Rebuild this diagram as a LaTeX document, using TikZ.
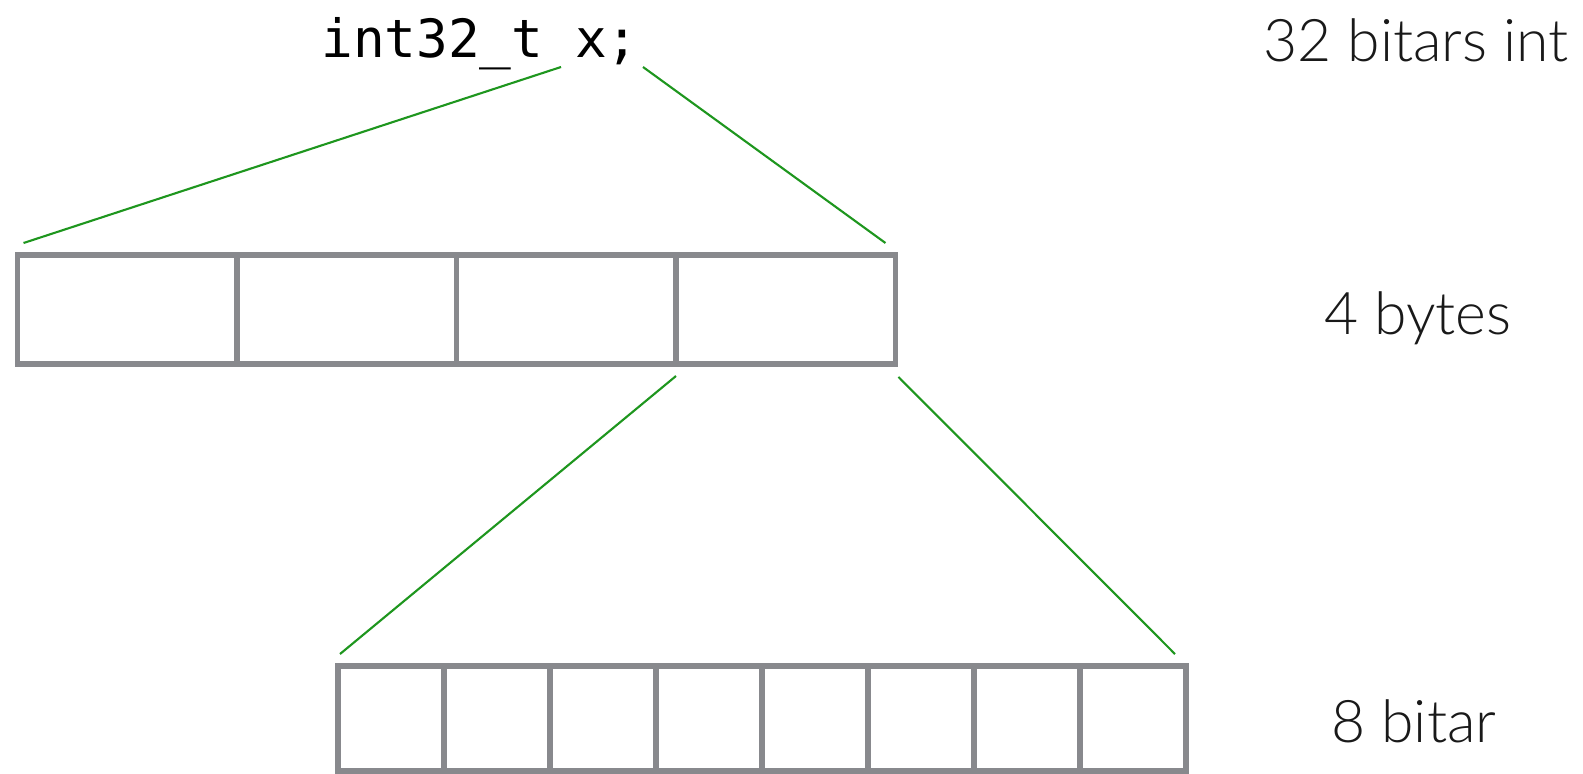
\documentclass[tikz,border=0pt]{standalone}
\usepackage{fontspec}
\setmainfont{Lato}[UprightFont=* Light]
\setmonofont{DejaVu Sans Mono}
\definecolor{cellgray}{RGB}{136, 137, 141}
\definecolor{linkgreen}{RGB}{30, 150, 30}
\usetikzlibrary{positioning, calc}

\begin{document}
\begin{tikzpicture}[
  x=0.02cm, y=-0.02cm,
  bytebox/.style={draw=cellgray, line width=2.9pt, outer sep=0pt,
                  minimum width=4.39cm, minimum height=2.18cm},
  bitbox/.style={draw=cellgray, line width=2.9pt, outer sep=0pt,
                 minimum width=2.12cm, minimum height=2.1cm},
  lbl/.style={anchor=base, font=\fontsize{33.5}{38}\selectfont, text=black!90},
  link/.style={linkgreen, line width=1.2pt}
]
  \useasboundingbox (0,0) rectangle (1583,774);
  \node[anchor=base, font=\ttfamily\fontsize{30}{32}\selectfont] (code) at (480,57) {int32\_t x;};
  \node[lbl] (l32) at (1416,61) {32 bitars int};
  \node[lbl] (l4) at (1418,334) {4 bytes};
  \node[lbl] (l8) at (1414,742) {8 bitar};
  \foreach \i in {1,...,4}
    \node[bytebox] (byte\i) at ({17.5+219.5*(\i-0.5)},309.5) {};
  \foreach \i in {1,...,8}
    \node[bitbox] (bit\i) at ({338+106*(\i-0.5)},718.5) {};
  \coordinate (codeL) at (561,67);
  \coordinate (codeR) at (643,67);
  \draw[link] (codeL) -- ($(byte1.north west)+(6,-12)$);
  \draw[link] (codeR) -- ($(byte4.north east)+(-10,-12)$);
  \draw[link] ($(byte4.south west)+(0,12)$) -- ($(bit1.north west)+(2,-12)$);
  \draw[link] ($(byte4.south east)+(3,13)$) -- ($(bit8.north east)+(-11,-12)$);
\end{tikzpicture}
\end{document}
